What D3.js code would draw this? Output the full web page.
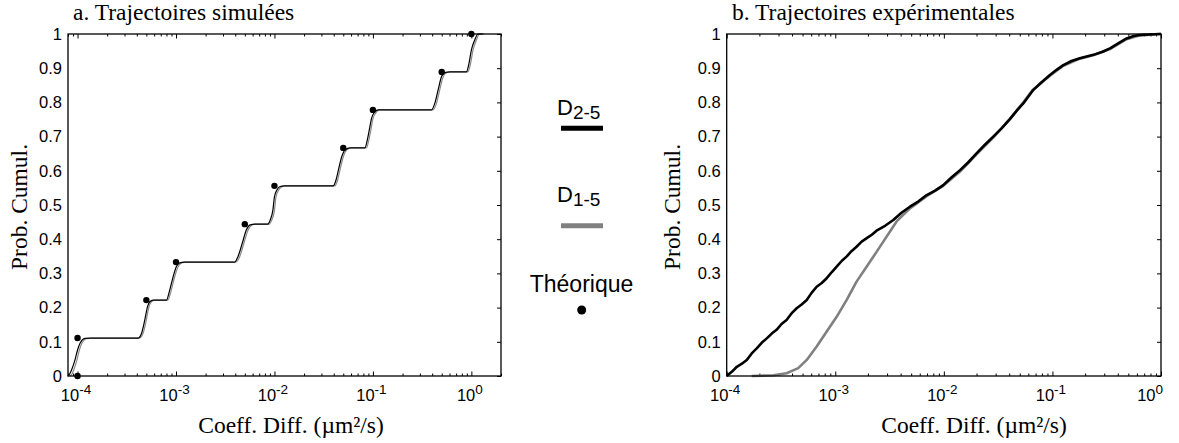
<!DOCTYPE html>
<html><head><meta charset="utf-8">
<script src="https://cdn.jsdelivr.net/npm/d3@7"></script>
<style>
body{margin:0;background:#fff;}
svg{display:block;}
</style>
</head><body>
<svg id="chart" width="1179" height="443"></svg>
<script>
// ---------- data ----------
const panelTitles = ["a. Trajectoires simulées", "b. Trajectoires expérimentales"];
const xAxisLabel = "Coeff. Diff. (µm²/s)";
const yAxisLabel = "Prob. Cumul.";
const yTickValues = [0,0.1,0.2,0.3,0.4,0.5,0.6,0.7,0.8,0.9,1];
const yTickLabels = ["0","0.1","0.2","0.3","0.4","0.5","0.6","0.7","0.8","0.9","1"];
const xMajorTicks = [1e-4,1e-3,1e-2,1e-1,1];
const xMajorExponents = ["-4","-3","-2","-1","0"];
const legendNames = ["D", "D", "Théorique"];
const legendSubs = ["2-5", "1-5", ""];

// panel a: simulated trajectories, [D, P]
const simD25 = [[8.0e-5,0],[8.4e-5,0.008],[8.71e-5,0.018],[9.42e-5,0.047],[1.0e-4,0.076],[1.06e-4,0.096],[1.19e-4,0.110],[1.35e-4,0.111],
 [4.13e-4,0.111],[4.47e-4,0.125],[4.82e-4,0.164],[5.14e-4,0.203],[5.42e-4,0.217],[5.86e-4,0.222],
 [8.0e-4,0.222],[8.63e-4,0.251],[9.35e-4,0.290],[1.01e-3,0.320],[1.09e-3,0.331],[1.22e-3,0.333],
 [3.94e-3,0.333],[4.26e-3,0.349],[4.71e-3,0.388],[5.18e-3,0.427],[5.68e-3,0.442],[6.28e-3,0.444],
 [8.55e-3,0.444],[9.06e-3,0.456],[9.64e-3,0.485],[1.0e-2,0.524],[1.06e-2,0.544],[1.14e-2,0.554],[1.26e-2,0.556],
 [3.96e-2,0.556],[4.22e-2,0.573],[4.46e-2,0.602],[4.82e-2,0.641],[5.2e-2,0.661],[5.85e-2,0.667],
 [8.3e-2,0.667],[8.77e-2,0.690],[9.18e-2,0.719],[9.7e-2,0.754],[0.105,0.773],[0.113,0.778],
 [0.394,0.778],[0.425,0.797],[0.459,0.836],[0.497,0.875],[0.536,0.887],[0.603,0.889],
 [0.889,0.889],[0.946,0.914],[1.0,0.953],[1.08,0.982],[1.17,1.0],[1.3,1.0]];
const simD15 = [[8.3e-5,0],[8.8e-5,0.006],[9.1e-5,0.016],[9.8e-5,0.044],[1.04e-4,0.074],[1.1e-4,0.094],[1.23e-4,0.109],[1.4e-4,0.111],
 [4.25e-4,0.111],[4.62e-4,0.124],[4.98e-4,0.162],[5.3e-4,0.201],[5.6e-4,0.216],[6.05e-4,0.222],
 [8.25e-4,0.222],[8.92e-4,0.249],[9.65e-4,0.288],[1.045e-3,0.318],[1.13e-3,0.330],[1.26e-3,0.333],
 [4.07e-3,0.333],[4.41e-3,0.347],[4.87e-3,0.386],[5.36e-3,0.425],[5.87e-3,0.441],[6.5e-3,0.444],
 [8.85e-3,0.444],[9.37e-3,0.455],[9.98e-3,0.483],[1.035e-2,0.522],[1.1e-2,0.543],[1.18e-2,0.553],[1.3e-2,0.556],
 [4.1e-2,0.556],[4.36e-2,0.571],[4.61e-2,0.600],[4.98e-2,0.639],[5.38e-2,0.660],[6.05e-2,0.667],
 [8.6e-2,0.667],[9.07e-2,0.688],[9.5e-2,0.717],[0.1,0.752],[0.109,0.772],[0.117,0.778],
 [0.407,0.778],[0.44,0.795],[0.475,0.834],[0.514,0.873],[0.555,0.886],[0.624,0.889],
 [0.92,0.889],[0.979,0.912],[1.035,0.951],[1.12,0.981],[1.21,1.0],[1.35,1.0]];
const theoD = [1e-4,1e-4,5e-4,1e-3,5e-3,1e-2,5e-2,1e-1,5e-1,1];
const theoP = [0,0.111,0.222,0.333,0.444,0.556,0.667,0.778,0.889,1];

// panel b: experimental trajectories, [D, P]
const expD25 = [[1e-4,0],[1.12e-4,0.013],[1.24e-4,0.027],[1.38e-4,0.036],[1.53e-4,0.047],[1.7e-4,0.066],[1.89e-4,0.081],[2.1e-4,0.097],[2.34e-4,0.110],[2.6e-4,0.124],[2.88e-4,0.135],[3.2e-4,0.152],[3.56e-4,0.164],
 [3.95e-4,0.183],[4.41e-4,0.198],[4.9e-4,0.209],[5.46e-4,0.222],[6.05e-4,0.243],[6.74e-4,0.261],[7.5e-4,0.272],[8.34e-4,0.286],[9.3e-4,0.304],[1.03e-3,0.320],[1.15e-3,0.337],[1.27e-3,0.349],[1.41e-3,0.365],[1.57e-3,0.378],
 [1.75e-3,0.393],[1.95e-3,0.403],[2.17e-3,0.413],[2.40e-3,0.425],[2.9e-3,0.440],[3.42e-3,0.456],[4.1e-3,0.478],[4.87e-3,0.495],[5.8e-3,0.510],[6.95e-3,0.529],[8.3e-3,0.542],[9.87e-3,0.558],[1.18e-2,0.581],[1.41e-2,0.602],
 [1.68e-2,0.625],[2.0e-2,0.651],[2.4e-2,0.677],[2.85e-2,0.700],[3.4e-2,0.724],[4.06e-2,0.751],[4.7e-2,0.776],[5.39e-2,0.797],[6.65e-2,0.836],[7.9e-2,0.858],[9.48e-2,0.880],[0.11,0.896],[0.126,0.909],
 [0.15,0.921],[0.179,0.929],[0.238,0.939],[0.29,0.948],[0.339,0.958],[0.4,0.972],[0.482,0.987],[0.560,0.994],[0.640,0.997],[0.977,1.0],[1,1]];
const expD15 = [[1.70e-4,0],[2.69e-4,0.002],[3.56e-4,0.008],[4.56e-4,0.023],[5.46e-4,0.047],[6.74e-4,0.086],[8.34e-4,0.130],
 [1.03e-3,0.173],[1.27e-3,0.222],[1.57e-3,0.276],[1.95e-3,0.320],[2.40e-3,0.363],[3.67e-3,0.452],[4.87e-3,0.490],
 [6.95e-3,0.526],[9.87e-3,0.556],[1.41e-2,0.598],[2.0e-2,0.648],[2.85e-2,0.697],[4.06e-2,0.752],[5.39e-2,0.800],
 [6.65e-2,0.838],[9.48e-2,0.878],[0.126,0.907],[0.179,0.928],[0.238,0.938],[0.339,0.956],[0.482,0.985],
 [0.640,0.996],[0.977,1.0],[1,1]];

// ---------- drawing ----------
const svg = d3.select("#chart");
const serif = "'Liberation Serif','Times New Roman',serif";
const sans = "'Liberation Sans',Arial,Helvetica,sans-serif";

const panels = [
  {x0:68, x1:501, domain:[8e-5,2], series:[{d:simD15,c:"#8a8a8a",w:1.2},{d:simD25,c:"#000",w:1.2}], curve:d3.curveMonotoneX,
   titleX:73, ylabX:27, xlabX:291, theo:true},
  {x0:726.7, x1:1161, domain:[1e-4,1], series:[{d:expD15,c:"#808080",w:2.6},{d:expD25,c:"#000",w:2.6}], curve:d3.curveLinear,
   titleX:732, ylabX:680, xlabX:974, theo:false}
];
const yTop = 34, yBot = 376;

panels.forEach((p, i) => {
  const x = d3.scaleLog().domain(p.domain).range([p.x0, p.x1]);
  const y = d3.scaleLinear().domain([0,1]).range([yBot, yTop]);
  const g = svg.append("g");

  const minors = [];
  for (let e = -5; e <= 0; e++) for (let m = 2; m <= 9; m++) {
    const v = m * Math.pow(10, e);
    if (v >= p.domain[0] && v <= p.domain[1]) minors.push(v);
  }
  const tickStyle = sel => { sel.select(".domain").remove(); sel.selectAll(".tick line").attr("stroke","#000").attr("stroke-width",1); };

  g.append("g").attr("transform",`translate(0,${yBot})`)
    .call(d3.axisBottom(x).tickValues(minors).tickSize(-2.5).tickFormat(() => "")).call(tickStyle);
  g.append("g").attr("transform",`translate(0,${yTop})`)
    .call(d3.axisTop(x).tickValues(minors).tickSize(-2.5).tickFormat(() => "")).call(tickStyle);
  g.append("g").attr("transform",`translate(0,${yBot})`)
    .call(d3.axisBottom(x).tickValues(xMajorTicks).tickSize(-4.5).tickFormat(() => "")).call(tickStyle);
  g.append("g").attr("transform",`translate(0,${yTop})`)
    .call(d3.axisTop(x).tickValues(xMajorTicks).tickSize(-4.5).tickFormat(() => "")).call(tickStyle);
  g.append("g").attr("transform",`translate(${p.x1},0)`)
    .call(d3.axisRight(y).tickValues(yTickValues).tickSize(-4).tickFormat(() => "")).call(tickStyle);

  const yl = g.append("g").attr("transform",`translate(${p.x0},0)`)
    .call(d3.axisLeft(y).tickValues(yTickValues).tickSize(0).tickPadding(6).tickFormat((d,k) => yTickLabels[k]));
  yl.select(".domain").remove();
  yl.selectAll("text").attr("font-size",16.5).attr("font-family",sans).attr("fill","#000");

  xMajorTicks.forEach((v,k) => {
    const t = g.append("text").attr("x", x(v) - 1.5).attr("y", 401)
      .attr("text-anchor","middle").attr("font-family",sans).attr("font-size",16.5).attr("fill","#000");
    t.append("tspan").text("10");
    t.append("tspan").attr("dy",-7).attr("font-size",13.5).text(xMajorExponents[k]);
    const bb = t.node().getBBox();
    if (bb.x + bb.width > 1163) t.attr("x", +t.attr("x") - (bb.x + bb.width - 1163));
  });

  const line = d3.line().x(d => x(d[0])).y(d => y(d[1])).curve(p.curve);
  p.series.forEach(s => {
    g.append("path").datum(s.d).attr("d", line).attr("fill","none")
      .attr("stroke", s.c).attr("stroke-width", s.w).attr("stroke-linejoin","round");
  });

  if (p.theo) {
    g.selectAll("circle.theo").data(theoD).join("circle").attr("class","theo")
      .attr("cx", d => x(d)).attr("cy", (d,k) => y(theoP[k])).attr("r", 3.2).attr("fill","#000");
  }

  g.append("rect").attr("x",p.x0).attr("y",yTop).attr("width",p.x1-p.x0).attr("height",yBot-yTop)
    .attr("fill","none").attr("stroke","#000").attr("stroke-width",1.3);

  svg.append("text").attr("x",p.titleX).attr("y",20).attr("font-family",serif).attr("font-size",23.5)
    .attr("fill","#000").text(panelTitles[i]);
  svg.append("text").attr("x",p.xlabX).attr("y",433).attr("text-anchor","middle").attr("font-family",serif)
    .attr("font-size",23.5).attr("fill","#000").text(xAxisLabel);
  svg.append("text").attr("transform",`translate(${p.ylabX},207) rotate(-90)`).attr("text-anchor","middle")
    .attr("font-family",serif).attr("font-size",23.5).attr("fill","#000").text(yAxisLabel);
});

// legend
const lg = svg.append("g");
const legY = [115, 202];
const legColors = ["#000", "#808080"];
const legLineY = [128.3, 225.8];
[0,1].forEach(k => {
  const t = lg.append("text").attr("x",557).attr("y",legY[k]).attr("font-family",sans).attr("font-size",22).attr("fill","#000");
  t.append("tspan").text(legendNames[k]);
  t.append("tspan").attr("dy",4).attr("font-size",19).text(legendSubs[k]);
  lg.append("line").attr("x1",561).attr("x2",603).attr("y1",legLineY[k]).attr("y2",legLineY[k])
    .attr("stroke",legColors[k]).attr("stroke-width",5);
});
lg.append("text").attr("x",581.5).attr("y",291.5).attr("text-anchor","middle").attr("font-family",sans)
  .attr("font-size",23).attr("fill","#000").text(legendNames[2]);
lg.append("circle").attr("cx",581.7).attr("cy",310).attr("r",4.5).attr("fill","#000");
</script>
</body></html>
